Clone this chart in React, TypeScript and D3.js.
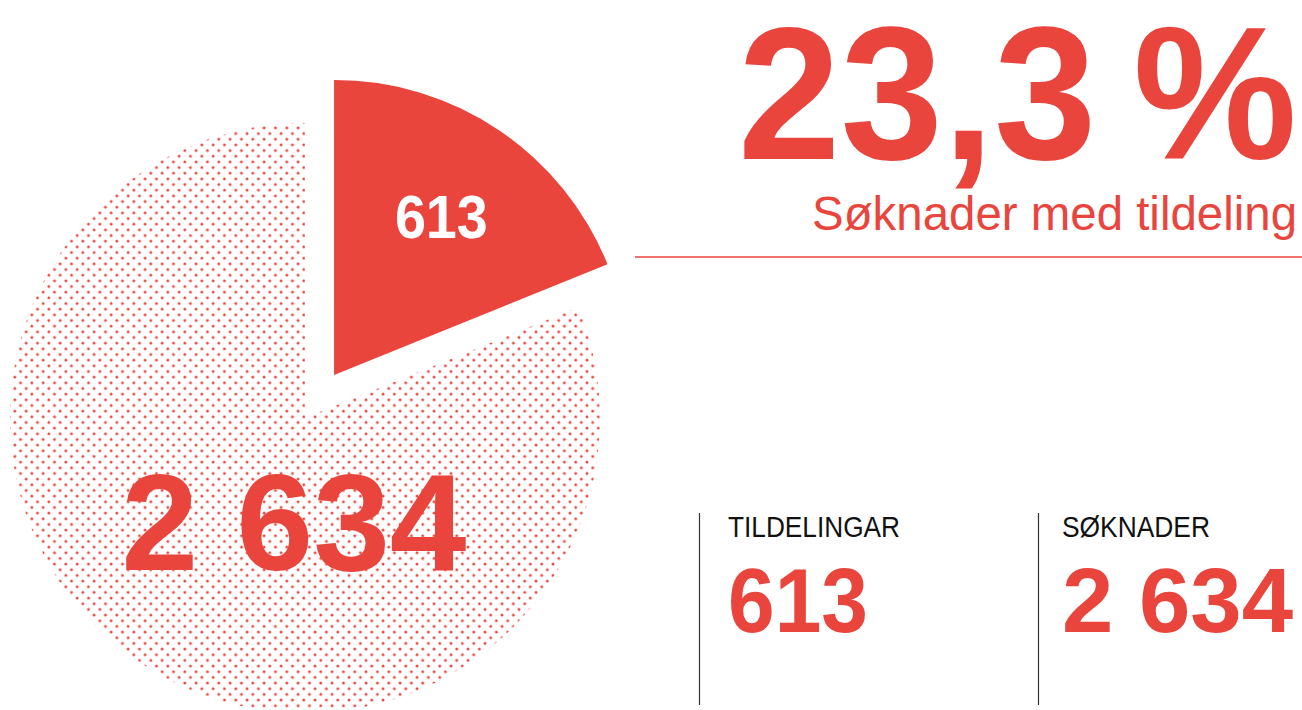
import React from "react";
import { arc, pie, formatLocale, PieArcDatum } from "d3";

// values
const labels = ["TILDELINGAR", "SØKNADER"];
const values = [613, 2634];
const subtitle = "Søknader med tildeling";

const RED = "#E9453D";
const W = 1302;
const H = 710;

const nb = formatLocale({
  decimal: ",",
  thousands: " ",
  grouping: [3],
  currency: ["", " kr"]
});
const fmtInt = nb.format(",d");
const fmtPct = nb.format(".1f");

export default function App() {
  const RADIUS = 295;
  const CX = 305;
  const CY = 418;
  const EXPLODE = 52;
  const DOT = 1.45;
  const STEP = 11.33;

  const slices = pie<number>()
    .sort(null)
    .value(d => d)(values);

  const arcGen = arc<PieArcDatum<number>>()
    .innerRadius(0)
    .outerRadius(RADIUS);

  const share = values[0] / values[1];

  const offset = (d: PieArcDatum<number>, r: number) => {
    const mid = (d.startAngle + d.endAngle) / 2;
    return [Math.sin(mid) * r, -Math.cos(mid) * r];
  };

  const [ex, ey] = offset(slices[0], EXPLODE);
  const [lx, ly] = offset(slices[0], 192);

  return (
    <svg
      width={W}
      height={H}
      style={{ position: "absolute", left: 0, top: 0 }}
      fontFamily="'Liberation Sans', Arial, sans-serif"
    >
      <defs>
        <pattern
          id="dots"
          patternUnits="userSpaceOnUse"
          width={STEP}
          height={STEP}
          x={10.1}
          y={10.1}
        >
          {[[0, 0], [STEP, 0], [0, STEP], [STEP, STEP], [STEP / 2, STEP / 2]].map(
            ([x, y], i) => (
              <circle key={i} cx={x} cy={y} r={DOT} fill={RED} />
            )
          )}
        </pattern>
      </defs>

      <g transform={`translate(${CX}, ${CY})`}>
        <path d={arcGen(slices[1])!} fill="url(#dots)" />
        <g transform={`translate(${ex}, ${ey})`}>
          <path d={arcGen(slices[0])!} fill={RED} />
          <text
            x={lx}
            y={ly + 22}
            textAnchor="middle"
            fill="#fff"
            fontSize={62}
            fontWeight="bold"
            textLength={93}
            lengthAdjust="spacingAndGlyphs"
          >
            {fmtInt(values[0])}
          </text>
        </g>
        <text
          x={-11}
          y={152}
          textAnchor="middle"
          fill={RED}
          fontSize={138}
          fontWeight="bold"
          textLength={345}
          lengthAdjust="spacingAndGlyphs"
        >
          {fmtInt(values[1])}
        </text>
      </g>

      {/* headline */}
      <text
        x={1297}
        y={159}
        textAnchor="end"
        fill={RED}
        fontSize={190}
        fontWeight="bold"
        textLength={559}
        lengthAdjust="spacingAndGlyphs"
      >
        {`${fmtPct(share * 100)}\u2009%`}
      </text>
      <text
        x={1297}
        y={230}
        textAnchor="end"
        fill={RED}
        fontSize={48}
        textLength={485}
        lengthAdjust="spacingAndGlyphs"
      >
        {subtitle}
      </text>
      <line x1={635} x2={W} y1={257} y2={257} stroke={RED} strokeWidth={1.5} />

      {/* key figures */}
      {labels.map((l, i) => {
        const x0 = i === 0 ? 699.5 : 1038.5;
        return (
          <g key={l} transform={`translate(${x0}, 0)`}>
            <line y1={513} y2={705} stroke="#333" strokeWidth={1.2} />
            <text
              x={i === 0 ? 28.5 : 23.5}
              y={537}
              fill="#111"
              fontSize={30}
              textLength={i === 0 ? 172 : 148}
              lengthAdjust="spacingAndGlyphs"
            >
              {l}
            </text>
            <text
              x={i === 0 ? 28.5 : 23.5}
              y={632}
              fill={RED}
              fontSize={91}
              fontWeight="bold"
              textLength={i === 0 ? 140 : 231}
              lengthAdjust="spacingAndGlyphs"
            >
              {fmtInt(values[i])}
            </text>
          </g>
        );
      })}
    </svg>
  );
}
